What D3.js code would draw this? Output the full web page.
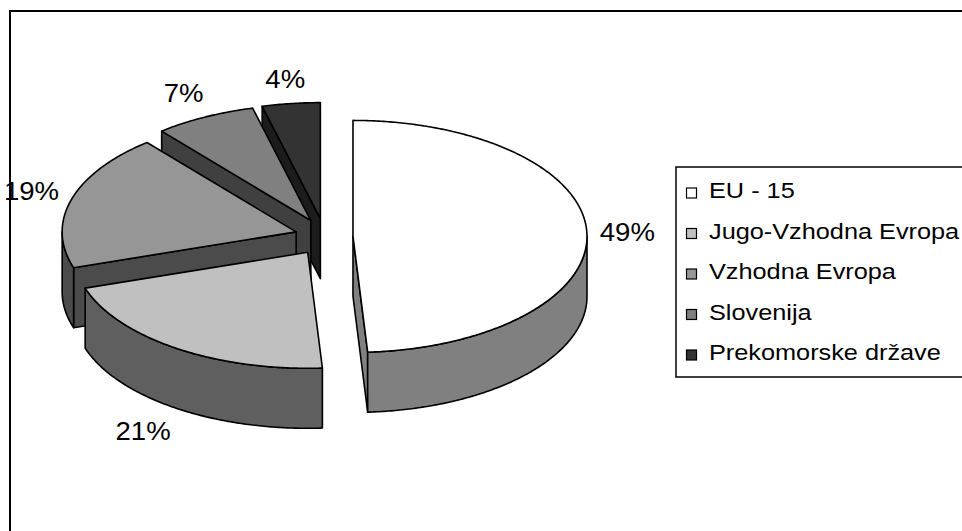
<!DOCTYPE html>
<html>
<head>
<meta charset="utf-8">
<script src="https://cdn.jsdelivr.net/npm/d3@7"></script>
<style>
  html, body { margin: 0; padding: 0; background: #ffffff; }
  svg { display: block; }
  text { font-family: "Liberation Sans", Arial, sans-serif; fill: #000; }
</style>
</head>
<body>
<svg id="chart" width="962" height="531"></svg>
<script>
// ---- data ----
const categories = ["EU - 15", "Jugo-Vzhodna Evropa", "Vzhodna Evropa", "Slovenija", "Prekomorske države"];
const values = [49, 21, 19, 7, 4];
const topColors = ["#FFFFFF", "#C0C0C0", "#969696", "#808080", "#333333"];
const sideColors = ["#808080", "#5F5F5F", "#4B4B4B", "#404040", "#1C1C1C"];

// ---- layout ----
const W = 962, H = 531;
const svg = d3.select("#chart");
const CX = 324, CY = 237, RX = 234, RY = 116, DEPTH = 60;
const EXPLODE_X = 29, EXPLODE_Y = 18.5;
const LEG_FONT = 22, LEG_STRETCH = 1.15;
const LAB_FONT = 26, LAB_STRETCH = 1.06;

// outer chart frame (cropped at right/bottom)
svg.append("rect").attr("x", 10).attr("y", 11).attr("width", W + 20).attr("height", H + 20)
  .attr("fill", "#fff").attr("stroke", "#000").attr("stroke-width", 2);

const pie = d3.pie().sort(null).value(d => d).startAngle(0).endAngle(2 * Math.PI);
const arcs = pie(values).map((a, i) => {
  const mid = (a.startAngle + a.endAngle) / 2;
  return {
    i, a0: a.startAngle, a1: a.endAngle, mid,
    cx: CX + EXPLODE_X * Math.sin(mid),
    cy: CY - EXPLODE_Y * Math.cos(mid)
  };
});

function pt(s, t, z) { return [s.cx + RX * Math.sin(t), s.cy - RY * Math.cos(t) + z]; }
function arcPts(s, t0, t1, z) {
  const n = Math.max(2, Math.ceil(Math.abs(t1 - t0) / 0.01));
  const out = [];
  for (let k = 0; k <= n; k++) out.push(pt(s, t0 + (t1 - t0) * k / n, z));
  return out;
}
const line = d3.line();
const g = svg.append("g");
const styleEdge = sel => sel.attr("stroke", "#000").attr("stroke-width", 1.6).attr("stroke-linejoin", "round");

// back-to-front order
const order = arcs.slice().sort((p, q) => Math.cos(q.mid) - Math.cos(p.mid));

order.forEach(s => {
  const sg = g.append("g");
  // radial wall at start angle
  if (Math.cos(s.a0 - Math.PI / 2 - Math.PI) > 1e-6) {
    const p = pt(s, s.a0, 0), pb = pt(s, s.a0, DEPTH);
    styleEdge(sg.append("path").attr("d", line([[s.cx, s.cy], p, pb, [s.cx, s.cy + DEPTH]]) + "Z")
      .attr("fill", sideColors[s.i]));
  }
  // radial wall at end angle
  if (Math.cos(s.a1 + Math.PI / 2 - Math.PI) > 1e-6) {
    const p = pt(s, s.a1, 0), pb = pt(s, s.a1, DEPTH);
    styleEdge(sg.append("path").attr("d", line([[s.cx, s.cy], p, pb, [s.cx, s.cy + DEPTH]]) + "Z")
      .attr("fill", sideColors[s.i]));
  }
  // outer curved wall (front half only)
  const v0 = Math.max(s.a0, Math.PI / 2), v1 = Math.min(s.a1, 3 * Math.PI / 2);
  if (v1 > v0) {
    const top = arcPts(s, v0, v1, 0);
    const bot = arcPts(s, v1, v0, DEPTH);
    styleEdge(sg.append("path").attr("d", line(top.concat(bot)) + "Z").attr("fill", sideColors[s.i]));
  }
  // top face
  const face = [[s.cx, s.cy]].concat(arcPts(s, s.a0, s.a1, 0));
  styleEdge(sg.append("path").attr("d", line(face) + "Z").attr("fill", topColors[s.i]));
});

// percentage labels
const clamp = v => Math.max(-1, Math.min(1, v));
arcs.forEach(s => {
  const sn = Math.sin(s.mid), cs = Math.cos(s.mid);
  const t = svg.append("text")
    .attr("text-anchor", "middle")
    .attr("dominant-baseline", "central")
    .attr("font-size", LAB_FONT)
    .text(values[s.i] + "%");
  const w = t.node().getComputedTextLength() * LAB_STRETCH;
  const x = s.cx + sn * RX * 1.055 + (w / 2) * clamp(sn / 0.6);
  const y = s.cy - cs * RY * 1.055 + (cs < 0 ? DEPTH : 0) - 18 * clamp(cs / 0.8);
  t.attr("transform", `translate(${x},${y}) scale(${LAB_STRETCH},1)`);
});

// legend
const LX = 676, LY = 167, LH = 210, ROW = 40.5, BASE0 = 198;
svg.append("rect").attr("x", LX).attr("y", LY).attr("width", 320).attr("height", LH)
  .attr("fill", "#fff").attr("stroke", "#000").attr("stroke-width", 1.5);
const leg = svg.append("g").selectAll("g").data(categories).join("g")
  .attr("transform", (d, i) => `translate(0,${BASE0 + i * ROW})`);
leg.append("rect").attr("x", 686.5).attr("y", -10).attr("width", 10).attr("height", 10)
  .attr("fill", (d, i) => topColors[i]).attr("stroke", "#000").attr("stroke-width", 1.2);
leg.append("text")
  .attr("transform", `translate(709,0) scale(${LEG_STRETCH},1)`)
  .attr("font-size", LEG_FONT)
  .text(d => d);
</script>
</body>
</html>
